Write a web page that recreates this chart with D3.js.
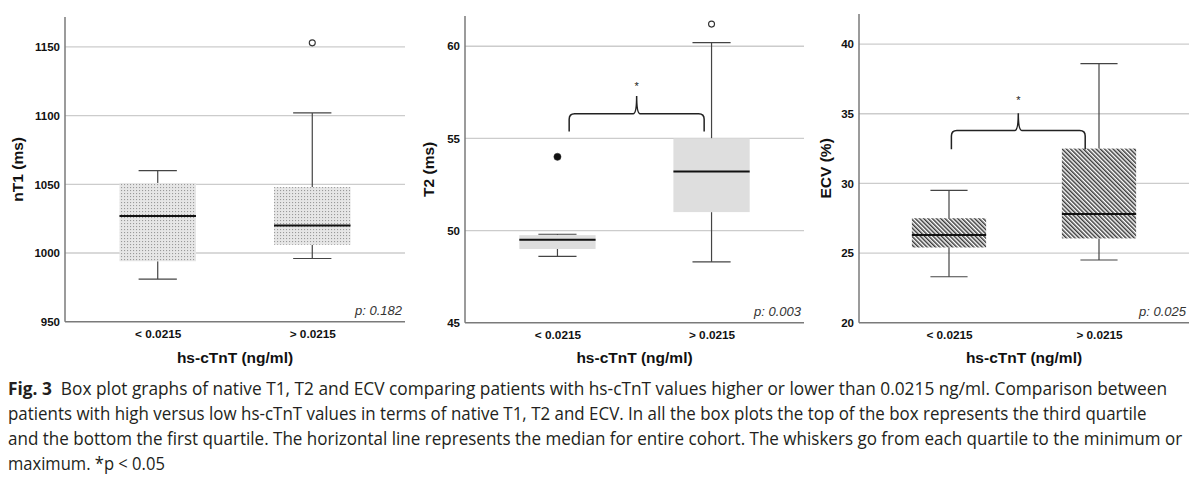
<!DOCTYPE html>
<html>
<head>
<meta charset="utf-8">
<script src="https://cdn.jsdelivr.net/npm/d3@7/dist/d3.min.js"></script>
<style>
  html, body { margin: 0; padding: 0; background: #fff; }
  svg { display: block; }
</style>
</head>
<body>
<svg id="chart" width="1200" height="482"></svg>
<script>
// ---------------- DATA ----------------
const categories = ["< 0.0215", "> 0.0215"];

// box stats: [min, q1, median, q3, max]
const t1Low  = [981, 994, 1027, 1051, 1060];
const t1High = [996, 1006, 1020, 1048, 1102];
const t1Outliers = [{cat: 1, value: 1153, filled: false}];
const t1Ticks = [950, 1000, 1050, 1100, 1150];

const t2Low  = [48.6, 49.0, 49.5, 49.75, 49.8];
const t2High = [48.3, 51.0, 53.2, 55.0, 60.2];
const t2Outliers = [{cat: 0, value: 54.0, filled: true}, {cat: 1, value: 61.2, filled: false}];
const t2Ticks = [45, 50, 55, 60];
// brace: [left pos, right pos] in category-index units; levels in data units
const t2BraceX = [0.076, 0.952];
const t2BraceY = {end: 55.37, bar: 56.34, peak: 57.30, star: 57.94};

const ecvLow  = [23.3, 25.4, 26.3, 27.5, 29.5];
const ecvHigh = [24.5, 26.05, 27.8, 32.5, 38.6];
const ecvOutliers = [];
const ecvTicks = [20, 25, 30, 35, 40];
const ecvBraceX = [0.016, 0.908];
const ecvBraceY = {end: 32.46, bar: 33.8, peak: 35.03, star: 36.15};

const yTitles = ["nT1 (ms)", "T2 (ms)", "ECV (%)"];
const xTitle = "hs-cTnT (ng/ml)";
const pLabels = ["p: 0.182", "p: 0.003", "p: 0.025"];

const captionLines = [
  [{t: "Fig. 3", b: true}, {t: "  Box plot graphs of native T1, T2 and ECV comparing patients with hs-cTnT values higher or lower than 0.0215 ng/ml. Comparison between", b: false}],
  [{t: "patients with high versus low hs-cTnT values in terms of native T1, T2 and ECV. In all the box plots the top of the box represents the third quartile", b: false}],
  [{t: "and the bottom the first quartile. The horizontal line represents the median for entire cohort. The whiskers go from each quartile to the minimum or", b: false}],
  [{t: "maximum. *p < 0.05", b: false}]
];

// ---------------- LAYOUT ----------------
const panels = [
  {left: 65,  right: 405,  top: 17, bottom: 321.7, yMax: 1171.8, low: t1Low, high: t1High,
   outliers: t1Outliers, ticks: t1Ticks, fill: "url(#dots)", titleX: 17, braceX: null, braceY: null},
  {left: 465, right: 804,  top: 16, bottom: 322.7, yMax: 61.64, low: t2Low, high: t2High,
   outliers: t2Outliers, ticks: t2Ticks, fill: "#dedede", titleX: 428, braceX: t2BraceX, braceY: t2BraceY},
  {left: 859, right: 1189, top: 14, bottom: 322.7, yMax: 42.16, low: ecvLow, high: ecvHigh,
   outliers: ecvOutliers, ticks: ecvTicks, fill: "url(#hatch)", titleX: 825, braceX: ecvBraceX, braceY: ecvBraceY}
];

const svg = d3.select("#chart");
const defs = svg.append("defs");

// dotted pattern
const dots = defs.append("pattern").attr("id", "dots").attr("patternUnits", "userSpaceOnUse")
  .attr("width", 3).attr("height", 3);
dots.append("rect").attr("width", 3).attr("height", 3).attr("fill", "#e6e6e6");
dots.append("rect").attr("x", 1).attr("y", 1).attr("width", 1.1).attr("height", 1.1).attr("fill", "#9a9a9a");

// hatch pattern
const hatch = defs.append("pattern").attr("id", "hatch").attr("patternUnits", "userSpaceOnUse")
  .attr("width", 3).attr("height", 3).attr("patternTransform", "rotate(-45)");
hatch.append("rect").attr("width", 3).attr("height", 3).attr("fill", "#ffffff");
hatch.append("rect").attr("width", 1.5).attr("height", 3).attr("fill", "#3a3a3a");

const chartFont = "'Liberation Sans', Arial, sans-serif";

panels.forEach((p, i) => {
  const y = d3.scaleLinear().domain([p.ticks[0], p.yMax]).range([p.bottom, p.top]);
  const x = d3.scalePoint().domain(categories).range([p.left, p.right]).padding(0.6);
  const step = x.step();
  const boxW = step * 0.495;
  const capW = boxW / 2;
  const g = svg.append("g");

  // gridlines (excluding baseline)
  g.selectAll(".grid").data(p.ticks.slice(1)).join("line")
    .attr("x1", p.left).attr("x2", p.right)
    .attr("y1", d => y(d)).attr("y2", d => y(d))
    .attr("stroke", "#cccccc").attr("stroke-width", 1.3);

  // y axis via d3.axisLeft (labels only)
  const yAxis = g.append("g").attr("transform", `translate(${p.left},0)`)
    .call(d3.axisLeft(y).tickValues(p.ticks).tickSize(0).tickPadding(5).tickFormat(d3.format("d")));
  yAxis.select(".domain").remove();
  yAxis.selectAll("text").attr("font-family", chartFont).attr("font-weight", "bold")
    .attr("font-size", 11.5).attr("fill", "#111");

  // x axis labels
  const xAxis = g.append("g").attr("transform", `translate(0,${p.bottom})`)
    .call(d3.axisBottom(x).tickSize(0).tickPadding(8));
  xAxis.select(".domain").remove();
  xAxis.selectAll("text").attr("font-family", chartFont).attr("font-weight", "bold")
    .attr("font-size", 11.8).attr("fill", "#111").attr("dy", "0.71em");

  // axis lines
  g.append("line").attr("x1", p.left).attr("x2", p.left).attr("y1", p.top).attr("y2", p.bottom)
    .attr("stroke", "#7a7a7a").attr("stroke-width", 1.5);
  g.append("line").attr("x1", p.left).attr("x2", p.right).attr("y1", p.bottom).attr("y2", p.bottom)
    .attr("stroke", "#7a7a7a").attr("stroke-width", 1.5);

  // boxes
  const stats = [p.low, p.high];
  stats.forEach((s, ci) => {
    const cx = x(categories[ci]);
    const [mn, q1, md, q3, mx] = s;
    g.append("line").attr("x1", cx).attr("x2", cx).attr("y1", y(mn)).attr("y2", y(q1))
      .attr("stroke", "#444").attr("stroke-width", 1.2);
    g.append("line").attr("x1", cx).attr("x2", cx).attr("y1", y(q3)).attr("y2", y(mx))
      .attr("stroke", "#444").attr("stroke-width", 1.2);
    [mn, mx].forEach(v => {
      g.append("line").attr("x1", cx - capW / 2).attr("x2", cx + capW / 2)
        .attr("y1", y(v)).attr("y2", y(v)).attr("stroke", "#444").attr("stroke-width", 1.2);
    });
    g.append("rect").attr("x", cx - boxW / 2).attr("width", boxW)
      .attr("y", y(q3)).attr("height", y(q1) - y(q3)).attr("fill", p.fill);
    g.append("line").attr("x1", cx - boxW / 2).attr("x2", cx + boxW / 2)
      .attr("y1", y(md)).attr("y2", y(md)).attr("stroke", "#111").attr("stroke-width", 2);
  });

  // outliers
  g.selectAll(".out").data(p.outliers).join("circle")
    .attr("cx", d => x(categories[d.cat])).attr("cy", d => y(d.value))
    .attr("r", d => d.filled ? 3.6 : 3)
    .attr("fill", d => d.filled ? "#111" : "#fff")
    .attr("stroke", "#333").attr("stroke-width", d => d.filled ? 0.5 : 1.1);

  // brace
  if (p.braceX) {
    const xi = d3.scaleLinear().domain([0, 1]).range([x(categories[0]), x(categories[1])]);
    const x1 = xi(p.braceX[0]), x2 = xi(p.braceX[1]), xc = (x1 + x2) / 2;
    const ye = y(p.braceY.end), yb = y(p.braceY.bar), yp = y(p.braceY.peak);
    const r = 5.5, rc = 3.5;
    const path = d3.path();
    path.moveTo(x1, ye);
    path.lineTo(x1, yb + r);
    path.quadraticCurveTo(x1, yb, x1 + r, yb);
    path.lineTo(xc - rc, yb);
    path.quadraticCurveTo(xc, yb, xc, yp);
    path.quadraticCurveTo(xc, yb, xc + rc, yb);
    path.lineTo(x2 - r, yb);
    path.quadraticCurveTo(x2, yb, x2, yb + r);
    path.lineTo(x2, ye);
    g.append("path").attr("d", path.toString()).attr("fill", "none")
      .attr("stroke", "#222").attr("stroke-width", 1.5);
    g.append("text").attr("x", xc).attr("y", y(p.braceY.star) + 6)
      .attr("text-anchor", "middle").attr("font-family", chartFont).attr("font-size", 11)
      .attr("fill", "#222").text("*");
  }

  // p label
  g.append("text").attr("x", p.right - 3).attr("y", p.bottom - 6.5)
    .attr("text-anchor", "end").attr("font-family", chartFont).attr("font-style", "italic")
    .attr("font-size", 13).attr("fill", "#333").text(pLabels[i]);

  // y title
  g.append("text").attr("transform", `translate(${p.titleX},${(p.top + p.bottom) / 2}) rotate(-90)`)
    .attr("text-anchor", "middle").attr("dominant-baseline", "central")
    .attr("font-family", chartFont).attr("font-weight", "bold").attr("font-size", 15.5)
    .attr("fill", "#111").text(yTitles[i]);

  // x title
  g.append("text").attr("x", (p.left + p.right) / 2).attr("y", 362.5)
    .attr("text-anchor", "middle").attr("font-family", chartFont).attr("font-weight", "bold")
    .attr("font-size", 15.5).attr("fill", "#111").text(xTitle);
});

// caption: natural text, horizontally scaled to the reference line widths (condensed face)
const capWidths = [1160, 1139, 1175, 157];
const capBase = [394.5, 419.5, 444.5, 469.5];
captionLines.forEach((line, li) => {
  const t = svg.append("text").attr("x", 0).attr("y", 0)
    .attr("font-family", "'Open Sans', 'Noto Sans', sans-serif").attr("font-size", 18)
    .attr("fill", "#231f20")
    .attr("xml:space", "preserve").style("white-space", "pre");
  line.forEach(seg => {
    t.append("tspan").attr("font-weight", seg.b ? "bold" : "normal").text(seg.t);
  });
  const natural = t.node().getComputedTextLength();
  const sx = capWidths[li] / natural;
  t.attr("transform", `translate(8,${capBase[li]}) scale(${sx},1)`);
});
</script>
</body>
</html>
